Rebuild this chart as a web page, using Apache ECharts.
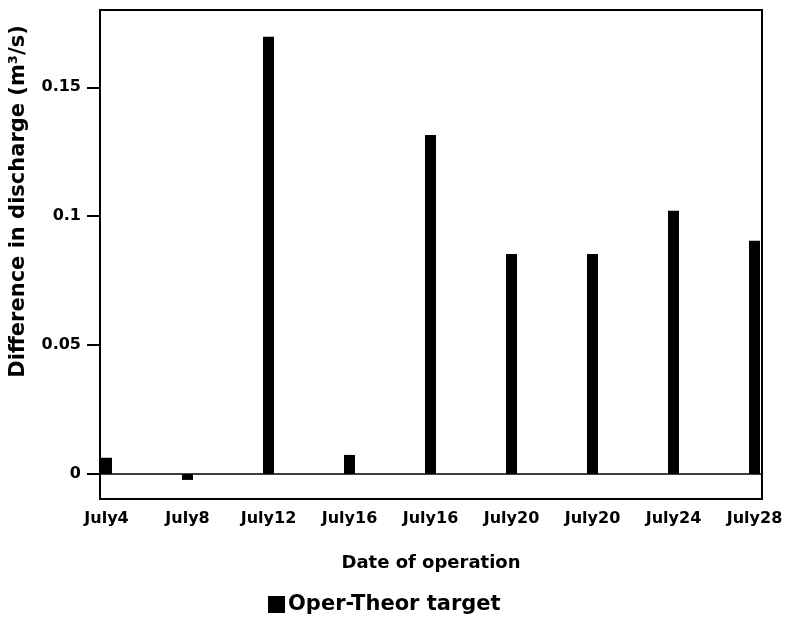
<!DOCTYPE html>
<html>
<head>
<meta charset="utf-8">
<script src="https://cdn.jsdelivr.net/npm/echarts@6/dist/echarts.min.js"></script>
<style>html,body{margin:0;padding:0;background:#fff;}#chart{width:786px;height:628px;}</style>
</head>
<body>
<div id="chart"></div>
<script>
var categories = ['July4', 'July8', 'July12', 'July16', 'July16', 'July20', 'July20', 'July24', 'July28'];
var operTheorTarget = [0.0063, -0.0023, 0.1696, 0.0074, 0.1315, 0.0853, 0.0853, 0.1021, 0.0905];
var yTickValues = [0, 0.05, 0.1, 0.15];
var yTickLabels = ['0', '0.05', '0.1', '0.15'];
var seriesName = 'Oper-Theor target';

var FONT = 'DejaVu Sans';
var catIdx = categories.map(function (c, i) { return i; });
var barData = operTheorTarget.map(function (v, i) { return [i, v]; });

var chart = echarts.init(document.getElementById('chart'), null, {renderer: 'canvas'});
chart.setOption({
  animation: false,
  backgroundColor: '#fff',
  grid: {
    left: 100, right: 24, top: 10, bottom: 129,
    show: true, borderColor: '#000', borderWidth: 2, backgroundColor: 'transparent'
  },
  legend: {
    data: [seriesName],
    left: 268, top: 594, padding: 0,
    icon: 'rect', itemWidth: 17, itemHeight: 17, itemGap: 10,
    textStyle: {fontFamily: FONT, fontWeight: 'bold', fontSize: 21, color: '#000', padding: [0, 0, 0, -2]}
  },
  xAxis: {
    type: 'value',
    min: -0.0802, max: 8.0926,
    name: 'Date of operation',
    nameLocation: 'middle', nameGap: 55,
    nameTextStyle: {fontFamily: FONT, fontWeight: 'bold', fontSize: 18, color: '#000'},
    axisLine: {show: false, onZero: false},
    axisTick: {show: false},
    splitLine: {show: false},
    axisLabel: {
      customValues: catIdx,
      formatter: function (v) { return categories[Math.round(v)]; },
      margin: 12,
      fontFamily: FONT, fontWeight: 'bold', fontSize: 16, color: '#000'
    }
  },
  yAxis: {
    type: 'value',
    min: -0.0097, max: 0.18,
    name: 'Difference in discharge (m\u00b3/s)',
    nameLocation: 'middle', nameGap: 71, nameRotate: 90,
    nameTextStyle: {fontFamily: FONT, fontWeight: 'bold', fontSize: 21, color: '#000', padding: [0, 0, 0, 106]},
    axisLine: {show: true, onZero: false, lineStyle: {color: '#000', width: 2}},
    axisTick: {show: true, customValues: yTickValues, length: 13, lineStyle: {color: '#000', width: 2}},
    splitLine: {show: false},
    axisLabel: {
      customValues: yTickValues,
      formatter: function (v) {
        for (var i = 0; i < yTickValues.length; i++) {
          if (Math.abs(yTickValues[i] - v) < 1e-9) return yTickLabels[i];
        }
        return '';
      },
      margin: 19,
      fontFamily: FONT, fontWeight: 'bold', fontSize: 16, color: '#000'
    }
  },
  series: [{
    name: seriesName,
    type: 'bar',
    data: barData,
    barWidth: 11,
    itemStyle: {color: '#000'},
    markLine: {
      silent: true,
      symbol: 'none',
      label: {show: false},
      lineStyle: {color: '#000', width: 1.5, type: 'solid'},
      data: [{yAxis: 0}]
    }
  }]
});
</script>
</body>
</html>
